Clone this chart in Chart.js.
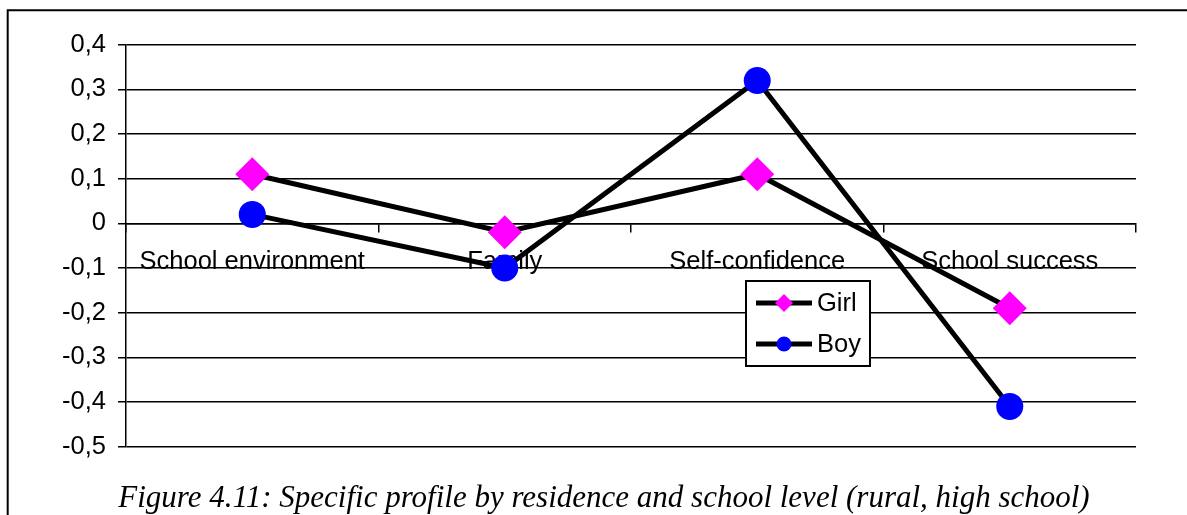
<!DOCTYPE html>
<html lang="en">
<head>
    <meta charset="UTF-8">
    <title>Specific profile by residence and school level</title>
    <script src="https://cdn.jsdelivr.net/npm/chart.js"></script>
    <style>
        body { margin: 0; background: #fff; overflow: hidden; }
        #chartContainer { width: 1187px; height: 515px; position: relative; }
    </style>
</head>
<body>

<div id="chartContainer">
    <canvas id="profileChart"></canvas>
</div>

<script type="text/javascript">
    // chart values
    var categories = ['School environment', 'Family', 'Self-confidence', 'School success'];
    var girlValues = [0.11, -0.02, 0.11, -0.19];
    var boyValues = [0.02, -0.10, 0.32, -0.41];
    var seriesNames = ['Girl', 'Boy'];
    var captionText = 'Figure 4.11: Specific profile by residence and school level (rural, high school)';

    var labelFont = { family: '"Liberation Sans", Arial, sans-serif', size: 25.5 };

    // comma as decimal separator, like the original
    function formatTick(v) {
        if (Math.abs(v) < 1e-9) return '0';
        return v.toFixed(1).replace('.', ',');
    }

    // outer frame (only left + top edges are in view) and the caption under the plot
    const framePlugin = {
        id: 'frame',
        beforeDraw(chart) {
            const ctx = chart.ctx;
            ctx.save();
            ctx.strokeStyle = '#000';
            ctx.lineWidth = 2;
            ctx.beginPath();
            ctx.moveTo(7.7, chart.height);
            ctx.lineTo(7.7, 10.3);
            ctx.lineTo(chart.width, 10.3);
            ctx.stroke();

            ctx.fillStyle = '#000';
            ctx.font = 'italic 31px "Liberation Serif", "Times New Roman", serif';
            ctx.textAlign = 'center';
            ctx.textBaseline = 'alphabetic';
            ctx.fillText(captionText, 604, 507);
            ctx.restore();
        }
    };

    // boxed legend sitting inside the plot
    const boxLegendPlugin = {
        id: 'boxLegend',
        afterDraw(chart) {
            const ctx = chart.ctx;
            const x = 746, y = 281, w = 124, h = 85;
            ctx.save();
            ctx.fillStyle = '#fff';
            ctx.fillRect(x, y, w, h);
            ctx.strokeStyle = '#000';
            ctx.lineWidth = 2;
            ctx.strokeRect(x, y, w, h);
            const rows = [303, 344];
            chart.data.datasets.forEach(function (ds, i) {
                const cy = rows[i];
                ctx.strokeStyle = ds.borderColor;
                ctx.lineWidth = 5;
                ctx.beginPath();
                ctx.moveTo(756, cy);
                ctx.lineTo(812, cy);
                ctx.stroke();
                ctx.fillStyle = ds.pointBackgroundColor;
                Chart.helpers.drawPoint(ctx, {
                    pointStyle: ds.pointStyle,
                    radius: ds.pointStyle === 'circle' ? 7.5 : 9,
                    borderWidth: 0
                }, 784, cy);
                ctx.fillStyle = '#000';
                ctx.font = labelFont.size + 'px ' + labelFont.family;
                ctx.textBaseline = 'middle';
                ctx.textAlign = 'left';
                ctx.fillText(ds.label, 817, cy + 1);
            });
            ctx.restore();
        }
    };

    const ctx = document.getElementById('profileChart').getContext('2d');
    new Chart(ctx, {
        type: 'line',
        data: {
            labels: categories,
            datasets: [{
                label: seriesNames[0],
                data: girlValues,
                borderColor: '#000',
                borderWidth: 5,
                pointStyle: 'rectRot',
                pointRadius: 17,
                pointHoverRadius: 17,
                pointBackgroundColor: '#ff00ff',
                pointBorderColor: '#ff00ff',
                pointBorderWidth: 0,
                fill: false,
                tension: 0
            }, {
                label: seriesNames[1],
                data: boyValues,
                borderColor: '#000',
                borderWidth: 5,
                pointStyle: 'circle',
                pointRadius: 13.5,
                pointHoverRadius: 13.5,
                pointBackgroundColor: '#0000ff',
                pointBorderColor: '#0000ff',
                pointBorderWidth: 0,
                fill: false,
                tension: 0
            }]
        },
        options: {
            responsive: true,
            maintainAspectRatio: false,
            animation: false,
            layout: {
                padding: { top: 44.7, right: 51, bottom: 68.4, left: 0 }
            },
            scales: {
                x: {
                    type: 'category',
                    offset: true,
                    position: { y: 0 },
                    border: { display: true, color: '#000', width: 1.5 },
                    grid: {
                        offset: true,
                        drawOnChartArea: false,
                        drawTicks: true,
                        tickLength: 8,
                        color: '#000',
                        lineWidth: 1.5
                    },
                    ticks: {
                        color: '#000',
                        font: labelFont,
                        padding: 15,
                        maxRotation: 0,
                        autoSkip: false
                    }
                },
                y: {
                    min: -0.5,
                    max: 0.4,
                    border: { display: true, color: '#000', width: 1.5 },
                    grid: {
                        color: '#000',
                        lineWidth: 1.5,
                        tickLength: 8
                    },
                    ticks: {
                        stepSize: 0.1,
                        color: '#000',
                        font: labelFont,
                        padding: 12,
                        callback: function (v) { return formatTick(v); }
                    },
                    afterFit: function (scale) { scale.width = 126; }
                }
            },
            plugins: {
                legend: { display: false },
                tooltip: { enabled: false },
                title: { display: false }
            }
        },
        plugins: [framePlugin, boxLegendPlugin]
    });
</script>

</body>
</html>
